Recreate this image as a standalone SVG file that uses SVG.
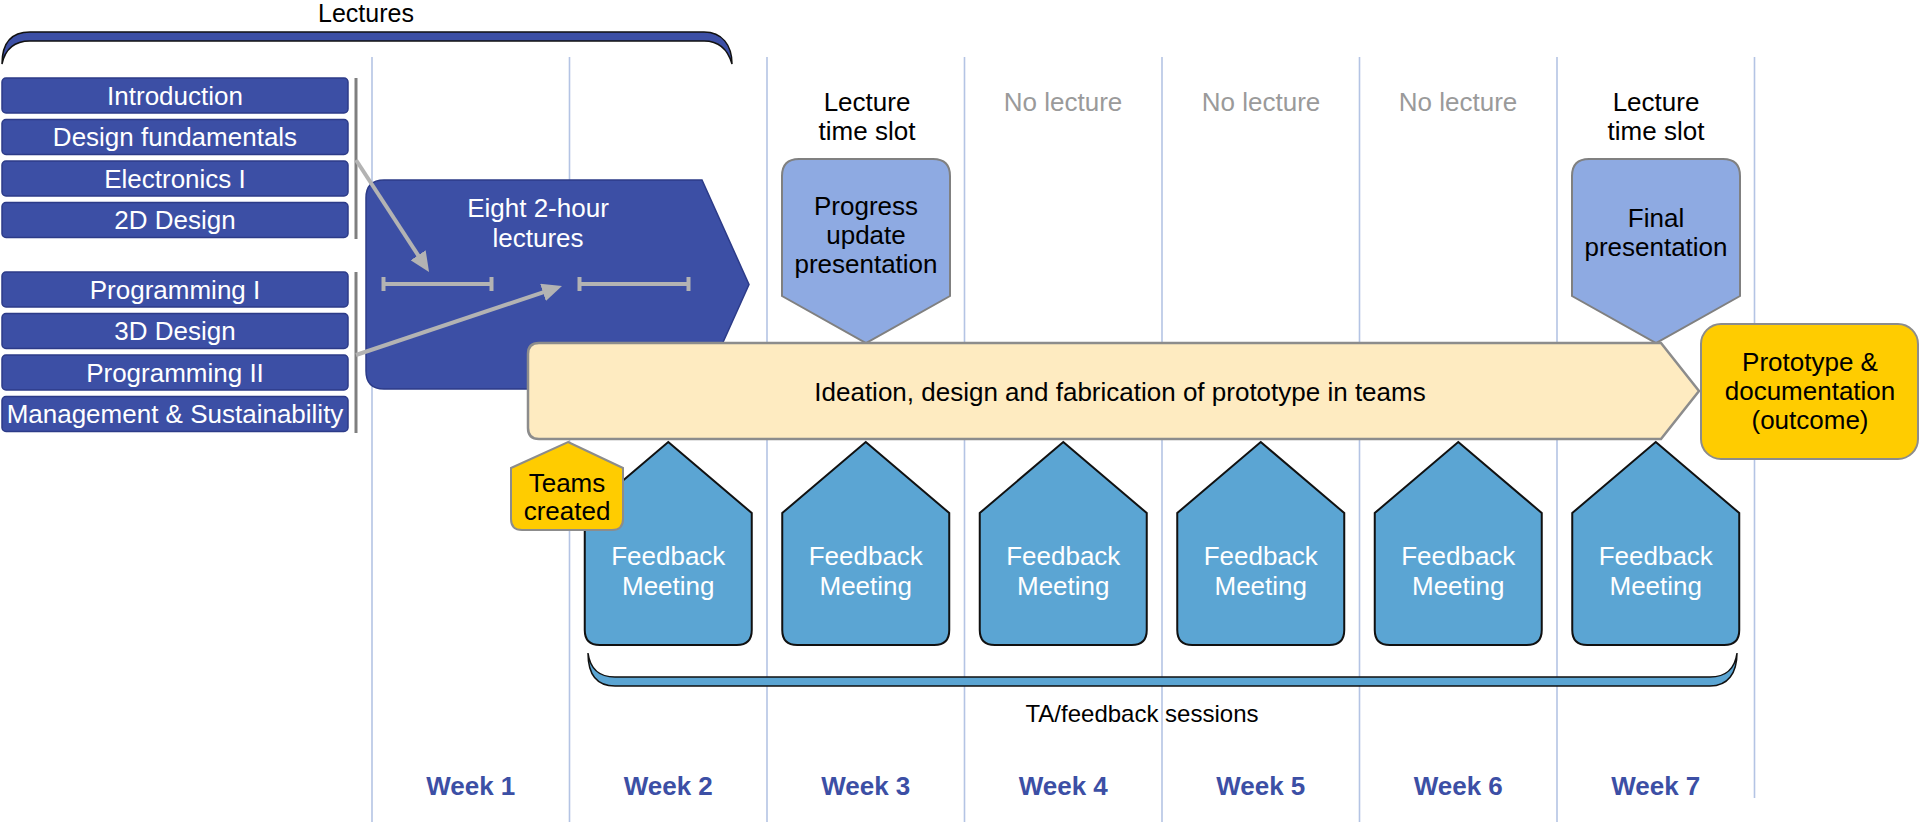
<svg xmlns="http://www.w3.org/2000/svg" width="1920" height="822" viewBox="0 0 1920 822">
<defs>
<style>
text{font-family:"Liberation Sans",Arial,sans-serif;font-size:26px;text-anchor:middle}
.grid{stroke:#b4c4e4;stroke-width:1.6;fill:none}
.lec{fill:#3c4fa5;stroke:#2c3b88;stroke-width:1.5}
.w{fill:#ffffff}
.k{fill:#000000}
.nolec{fill:#9a9a9a}
.week{fill:#3c4fa5;font-weight:bold}
.bar{stroke:#7f7f7f;stroke-width:3}
.garrow{stroke:#b3b3b3;stroke-width:4;fill:none}
.pres{fill:#8eaae2;stroke:#808080;stroke-width:2}
.fb{fill:#5ba5d3;stroke:#111111;stroke-width:2}
.gold{fill:#ffcc00;stroke:#8c8c8c;stroke-width:2}
</style>
<marker id="ah" viewBox="0 0 10 9" markerWidth="5" markerHeight="4.5" refX="2" refY="4.5" orient="auto" markerUnits="strokeWidth">
<path d="M0,0 L10,4.5 L0,9 Z" fill="#b3b3b3"/>
</marker>
</defs>

<g id="grid">
<line class="grid" x1="372" y1="57" x2="372" y2="822"/>
<line class="grid" x1="569.5" y1="57" x2="569.5" y2="822"/>
<line class="grid" x1="767" y1="57" x2="767" y2="822"/>
<line class="grid" x1="964.5" y1="57" x2="964.5" y2="822"/>
<line class="grid" x1="1162" y1="57" x2="1162" y2="822"/>
<line class="grid" x1="1359.5" y1="57" x2="1359.5" y2="822"/>
<line class="grid" x1="1557" y1="57" x2="1557" y2="822"/>
<line class="grid" x1="1754.5" y1="57" x2="1754.5" y2="798"/>
</g>

<g id="lectures-brace">
<path d="M2,64 C2,45 10,32 30,32 L704,32 C722,32 732,45 732,64 C728,50 720,41 704,41 L30,41 C14,41 5,50 2,64 Z" fill="#3c4fa5" stroke="#111" stroke-width="1.5"/>
<text x="366" y="22" style="font-size:25px">Lectures</text>
</g>

<g id="lecture-list">
<rect class="lec" x="2" y="78" width="346" height="35" rx="4"/><text class="w" x="175" y="104.5">Introduction</text>
<rect class="lec" x="2" y="119.5" width="346" height="35" rx="4"/><text class="w" x="175" y="146">Design fundamentals</text>
<rect class="lec" x="2" y="161" width="346" height="35" rx="4"/><text class="w" x="175" y="187.5">Electronics I</text>
<rect class="lec" x="2" y="202.5" width="346" height="35" rx="4"/><text class="w" x="175" y="229">2D Design</text>
<rect class="lec" x="2" y="272" width="346" height="35" rx="4"/><text class="w" x="175" y="298.5">Programming I</text>
<rect class="lec" x="2" y="313.5" width="346" height="35" rx="4"/><text class="w" x="175" y="340">3D Design</text>
<rect class="lec" x="2" y="355" width="346" height="35" rx="4"/><text class="w" x="175" y="381.5">Programming II</text>
<rect class="lec" x="2" y="396.5" width="346" height="35" rx="4"/><text class="w" x="175" y="423">Management &amp; Sustainability</text>
<line class="bar" x1="356" y1="78" x2="356" y2="239"/>
<line class="bar" x1="356" y1="272" x2="356" y2="433"/>
</g>

<g id="eight-lectures">
<path class="lec" d="M366,198 Q366,180 384,180 L702,180 L749,284.5 L702,389 L384,389 Q366,389 366,371 Z"/>
<text class="w" x="538" y="217">Eight 2-hour</text>
<text class="w" x="538" y="247">lectures</text>
<g stroke="#b3b3b3" stroke-width="4" fill="none">
<line x1="382" y1="284" x2="493" y2="284"/>
<line x1="383.5" y1="277" x2="383.5" y2="291"/>
<line x1="491.5" y1="277" x2="491.5" y2="291"/>
<line x1="578" y1="284" x2="690" y2="284"/>
<line x1="579.5" y1="277" x2="579.5" y2="291"/>
<line x1="688.5" y1="277" x2="688.5" y2="291"/>
</g>
</g>

<g id="connectors">
<line class="garrow" x1="356" y1="160" x2="420.3" y2="258.6" marker-end="url(#ah)"/>
<line class="garrow" x1="356" y1="355" x2="546.8" y2="291.1" marker-end="url(#ah)"/>
</g>

<g id="week3-slot">
<text class="k" x="867" y="111">Lecture</text>
<text class="k" x="867" y="140">time slot</text>
<path class="pres" d="M782,176 Q782,159 799,159 L933,159 Q950,159 950,176 L950,296 L866,343 L782,296 Z"/>
<text class="k" x="866" y="215">Progress</text>
<text class="k" x="866" y="244">update</text>
<text class="k" x="866" y="273">presentation</text>
</g>

<g id="no-lectures">
<text class="nolec" x="1063" y="111">No lecture</text>
<text class="nolec" x="1261" y="111">No lecture</text>
<text class="nolec" x="1458" y="111">No lecture</text>
</g>

<g id="week7-slot">
<text class="k" x="1656" y="111">Lecture</text>
<text class="k" x="1656" y="140">time slot</text>
<path class="pres" d="M1572,176 Q1572,159 1589,159 L1723,159 Q1740,159 1740,176 L1740,296 L1656,343 L1572,296 Z"/>
<text class="k" x="1656" y="227">Final</text>
<text class="k" x="1656" y="256">presentation</text>
</g>

<g id="ideation">
<path d="M539,343 L1661,343 L1699,391 L1661,439 L539,439 Q528,439 528,428 L528,354 Q528,343 539,343 Z" fill="#feebc1" stroke="#8c8c8c" stroke-width="2.5"/>
<text class="k" x="1120" y="401">Ideation, design and fabrication of prototype in teams</text>
</g>

<g id="feedback-meetings">
<path class="fb" d="M668.25,442 L751.75,513 L751.75,630 Q751.75,645 736.75,645 L599.75,645 Q584.75,645 584.75,630 L584.75,513 Z"/>
<text class="w" x="668.25" y="565">Feedback</text><text class="w" x="668.25" y="595">Meeting</text>
<path class="fb" d="M865.75,442 L949.25,513 L949.25,630 Q949.25,645 934.25,645 L797.25,645 Q782.25,645 782.25,630 L782.25,513 Z"/>
<text class="w" x="865.75" y="565">Feedback</text><text class="w" x="865.75" y="595">Meeting</text>
<path class="fb" d="M1063.25,442 L1146.75,513 L1146.75,630 Q1146.75,645 1131.75,645 L994.75,645 Q979.75,645 979.75,630 L979.75,513 Z"/>
<text class="w" x="1063.25" y="565">Feedback</text><text class="w" x="1063.25" y="595">Meeting</text>
<path class="fb" d="M1260.75,442 L1344.25,513 L1344.25,630 Q1344.25,645 1329.25,645 L1192.25,645 Q1177.25,645 1177.25,630 L1177.25,513 Z"/>
<text class="w" x="1260.75" y="565">Feedback</text><text class="w" x="1260.75" y="595">Meeting</text>
<path class="fb" d="M1458.25,442 L1541.75,513 L1541.75,630 Q1541.75,645 1526.75,645 L1389.75,645 Q1374.75,645 1374.75,630 L1374.75,513 Z"/>
<text class="w" x="1458.25" y="565">Feedback</text><text class="w" x="1458.25" y="595">Meeting</text>
<path class="fb" d="M1655.75,442 L1739.25,513 L1739.25,630 Q1739.25,645 1724.25,645 L1587.25,645 Q1572.25,645 1572.25,630 L1572.25,513 Z"/>
<text class="w" x="1655.75" y="565">Feedback</text><text class="w" x="1655.75" y="595">Meeting</text>
</g>

<g id="teams-created">
<path class="gold" d="M568,442 L623,468 L623,519 Q623,530 612,530 L522,530 Q511,530 511,519 L511,468 Z"/>
<text class="k" x="567" y="492">Teams</text>
<text class="k" x="567" y="520">created</text>
</g>

<g id="prototype">
<rect class="gold" x="1701" y="324" width="217" height="135" rx="20"/>
<text class="k" x="1810" y="371">Prototype &amp;</text>
<text class="k" x="1810" y="400">documentation</text>
<text class="k" x="1810" y="429">(outcome)</text>
</g>

<g id="ta-brace">
<path d="M588,653 C588,673 596,686 615,686 L1710,686 C1728,686 1737,673 1737,653 C1735,668 1727,677 1710,677 L615,677 C598,677 590,668 588,653 Z" fill="#5ba5d3" stroke="#111" stroke-width="1.5"/>
<text class="k" x="1142" y="722" style="font-size:24px">TA/feedback sessions</text>
</g>

<g id="weeks">
<text class="week" x="470.75" y="795">Week 1</text>
<text class="week" x="668.25" y="795">Week 2</text>
<text class="week" x="865.75" y="795">Week 3</text>
<text class="week" x="1063.25" y="795">Week 4</text>
<text class="week" x="1260.75" y="795">Week 5</text>
<text class="week" x="1458.25" y="795">Week 6</text>
<text class="week" x="1655.75" y="795">Week 7</text>
</g>
</svg>
